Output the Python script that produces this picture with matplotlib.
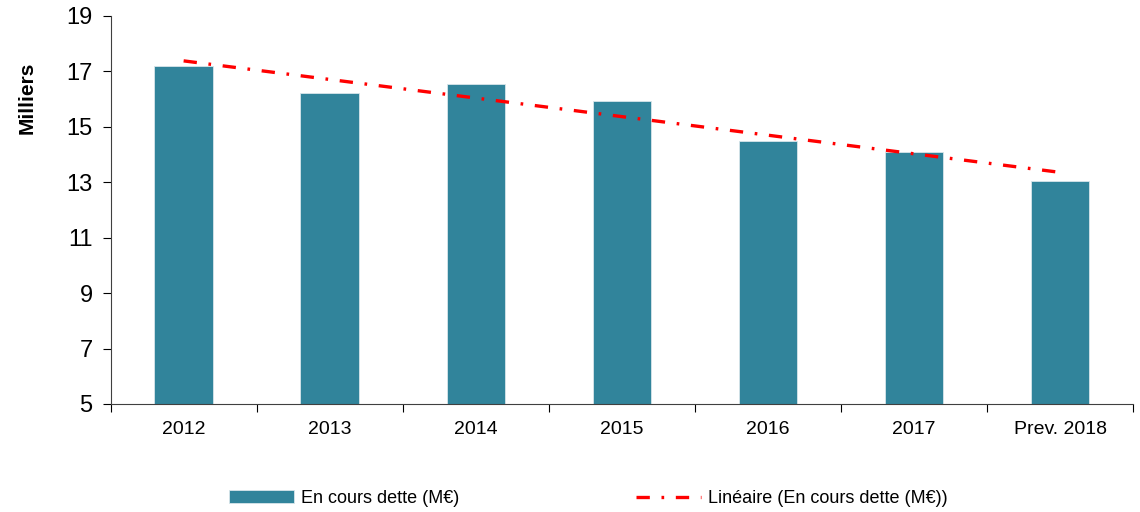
import numpy as np
import matplotlib.pyplot as plt

categories = ['2012', '2013', '2014', '2015', '2016', '2017', 'Prev. 2018']
encours = [17.2, 16.23, 16.55, 15.94, 14.49, 14.1, 13.05]
yticks = [5, 7, 9, 11, 13, 15, 17, 19]


def main():
    plt.rcParams['font.family'] = ['Liberation Sans', 'DejaVu Sans']
    create_plt(categories, encours)


def create_plt(cats, values):
    fig = plt.figure(figsize=(11.4, 5.12), dpi=100)
    plt.axes([0.097, 0.211, 0.897, 0.758])
    x = np.arange(len(cats))
    bars = plt.bar(x, values, width=0.4, color='#31849b', edgecolor='#d8e6ea', linewidth=0.6,
                   label='En cours dette (M€)', zorder=2)
    # linear trend line like the spreadsheet
    coef = np.polyfit(x, values, 1)
    trend, = plt.plot(x, np.polyval(coef, x), color='#ff0000', ls=(0, (4, 3.5, 0.8, 3.5)), lw=2.4,
                      label='Linéaire (En cours dette (M€))', zorder=3)
    ax = plt.gca()
    ax.set_xlim(-0.5, len(cats) - 0.5)
    ax.set_ylim(5, 19)
    ax.set_yticks(yticks)
    ax.tick_params(axis='y', labelsize=17, direction='out', length=6, width=0.8, pad=7)
    ax.set_xticks(np.arange(-0.5, len(cats), 1.0))
    ax.set_xticklabels([])
    ax.set_xticks(x, minor=True)
    ax.set_xticklabels(cats, minor=True, fontsize=14)
    ax.tick_params(axis='x', which='major', direction='out', length=6, width=0.8)
    ax.tick_params(axis='x', which='minor', length=0, pad=12)
    for s in ['top', 'right']:
        ax.spines[s].set_visible(False)
    for s in ['left', 'bottom']:
        ax.spines[s].set_color('#404040')
    plt.ylabel('Milliers', fontsize=15, fontweight='bold')
    ax.yaxis.set_label_coords(-0.072, 0.79)
    fig.legend([bars, trend], [bars.get_label(), trend.get_label()],
               loc='lower center', bbox_to_anchor=(0.516, -0.022), ncol=2, frameon=False,
               fontsize=13, columnspacing=9.8, handlelength=3.6, handletextpad=0.4)
    plt.savefig('out.png', dpi=100)


if __name__ == '__main__':
    main()
